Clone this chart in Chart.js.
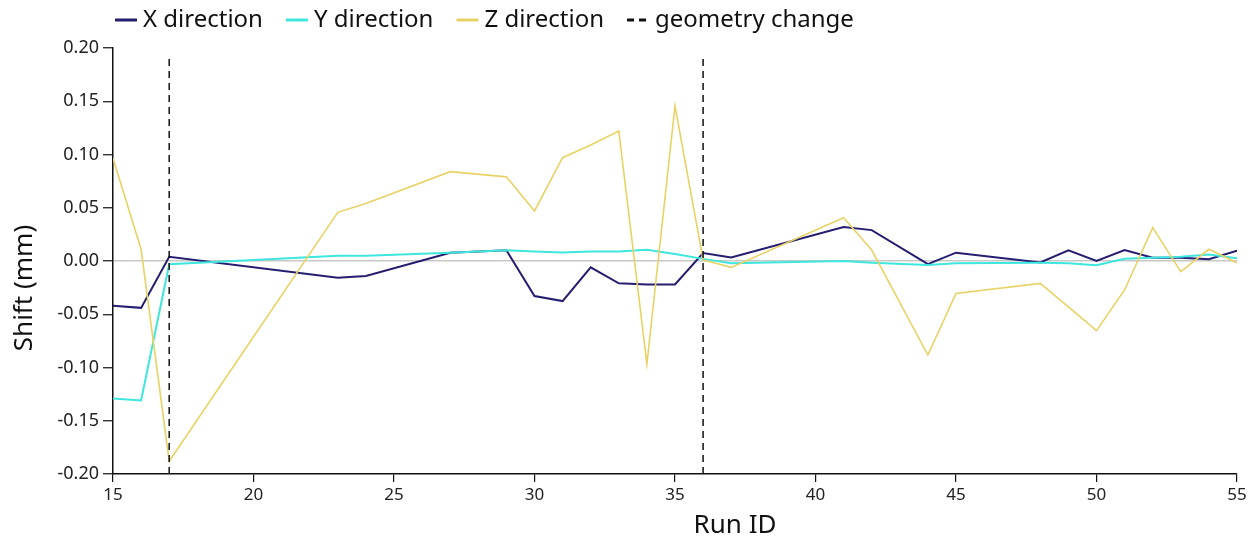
<!DOCTYPE html>
<html>
<head>
<meta charset="utf-8">
<script src="https://cdn.jsdelivr.net/npm/chart.js@4.4.1/dist/chart.umd.min.js"></script>
<style>
  html, body { margin: 0; padding: 0; background: #ffffff; }
  #wrap { position: relative; width: 1257px; height: 541px; }
</style>
</head>
<body>
<div id="wrap"><canvas id="c" width="1257" height="541"></canvas></div>
<script>
const runIds = [15,16,17,23,24,27,29,30,31,32,33,34,35,36,37,41,42,44,45,48,49,50,51,52,53,54,55];
const xShift = [-0.042,-0.044,0.004,-0.0157,-0.014,0.0078,0.010,-0.0329,-0.0376,-0.006,-0.021,-0.022,-0.022,0.0075,0.0033,0.032,0.029,-0.003,0.0078,-0.0013,0.010,0.0,0.0103,0.003,0.003,0.0016,0.0097];
const yShift = [-0.129,-0.131,-0.003,0.005,0.005,0.0078,0.010,0.009,0.008,0.009,0.009,0.0106,0.0066,0.002,-0.002,0.0,-0.0016,-0.0038,-0.002,-0.0016,-0.002,-0.004,0.002,0.003,0.004,0.006,0.0025];
const zShift = [0.0964,0.011,-0.188,0.0457,0.054,0.0839,0.079,0.047,0.097,0.109,0.122,-0.0967,0.1455,0.001,-0.006,0.0407,0.0103,-0.0883,-0.0304,-0.021,-0.043,-0.0654,-0.0272,0.0313,-0.010,0.011,-0.0016];
const geometryChanges = [17, 36];
const geometryLineRange = [-0.2, 0.193];
const seriesNames = ['X direction', 'Y direction', 'Z direction', 'geometry change'];
const xTicks = [15,20,25,30,35,40,45,50,55];
const yTicks = [-0.2,-0.15,-0.1,-0.05,0,0.05,0.1,0.15,0.2];
const xTitle = 'Run ID';
const yTitle = 'Shift (mm)';

const COLORS = { x: '#241d70', y: '#3ee6de', z: '#e8d266', geo: '#111111' };
const FONT = "'Noto Sans', 'Open Sans', sans-serif";

function pts(vals) { return runIds.map((r, i) => ({ x: r, y: vals[i] })); }

const datasets = [
  { label: seriesNames[0], data: pts(xShift), borderColor: COLORS.x, borderWidth: 2, order: 4 },
  { label: seriesNames[1], data: pts(yShift), borderColor: COLORS.y, borderWidth: 2, order: 3 },
  { label: seriesNames[2], data: pts(zShift), borderColor: COLORS.z, borderWidth: 1.6, order: 2 }
];
geometryChanges.forEach((g, i) => {
  datasets.push({
    label: seriesNames[3], legendHidden: i > 0,
    data: geometryLineRange.map(v => ({ x: g, y: v })),
    borderColor: COLORS.geo, borderWidth: 1.5, borderDash: [7, 5], order: 1
  });
});
datasets.forEach(d => { d.pointRadius = 0; d.pointHoverRadius = 0; d.tension = 0; d.fill = false; });

const legendPlugin = {
  id: 'customLegend',
  afterDraw(chart) {
    const ctx = chart.ctx;
    ctx.save();
    ctx.font = '24px ' + FONT;
    ctx.textBaseline = 'middle';
    ctx.fillStyle = '#111111';
    let x = 115;
    const y = 20;
    chart.data.datasets.forEach(d => {
      if (d.legendHidden) return;
      ctx.beginPath();
      ctx.strokeStyle = d.borderColor;
      ctx.lineWidth = 3;
      ctx.setLineDash(d.borderDash ? [7, 5] : []);
      ctx.moveTo(x, y);
      ctx.lineTo(x + 22, y);
      ctx.stroke();
      ctx.setLineDash([]);
      ctx.fillText(d.label, x + 28, y);
      x += 28 + ctx.measureText(d.label).width + 23;
    });
    // axis titles
    ctx.font = '26px ' + FONT;
    ctx.textAlign = 'center';
    ctx.textBaseline = 'alphabetic';
    ctx.fillText(xTitle, 735, 533);
    ctx.translate(32, 288);
    ctx.rotate(-Math.PI / 2);
    ctx.fillText(yTitle, 0, 0);
    ctx.restore();
  }
};

new Chart(document.getElementById('c'), {
  type: 'line',
  data: { datasets },
  plugins: [legendPlugin],
  options: {
    responsive: false,
    animation: false,
    events: [],
    layout: { padding: { top: 48, right: 20, bottom: 0, left: 0 } },
    plugins: { legend: { display: false }, tooltip: { enabled: false } },
    scales: {
      x: {
        type: 'linear', min: 15, max: 55,
        afterFit(s) { s.height = 67; },
        afterBuildTicks(s) { s.ticks = xTicks.map(v => ({ value: v })); },
        ticks: { color: '#222', font: { family: FONT, size: 17 }, padding: 3, maxRotation: 0,
                 callback: v => String(v) },
        grid: { display: true, drawOnChartArea: false, drawTicks: true, tickLength: 8, color: '#111', lineWidth: 1.2 },
        border: { display: true, color: '#111', width: 1.5 },
        title: { display: false }
      },
      y: {
        type: 'linear', min: -0.2, max: 0.2,
        afterFit(s) { s.width = 113; },
        afterBuildTicks(s) { s.ticks = yTicks.map(v => ({ value: v })); },
        ticks: { color: '#222', font: { family: FONT, size: 18 }, padding: 4,
                 callback: v => Number(v).toFixed(2) },
        grid: {
          display: true, drawOnChartArea: true, drawTicks: true, tickLength: 10,
          color: c => (c.tick && Math.abs(c.tick.value) < 1e-9 && c.type === 'tick') ? '#c8c8c8' : 'rgba(0,0,0,0)',
          tickColor: '#111', lineWidth: 1.5, tickWidth: 1.2
        },
        border: { display: true, color: '#111', width: 1.5 },
        title: { display: false }
      }
    }
  }
});
</script>
</body>
</html>
